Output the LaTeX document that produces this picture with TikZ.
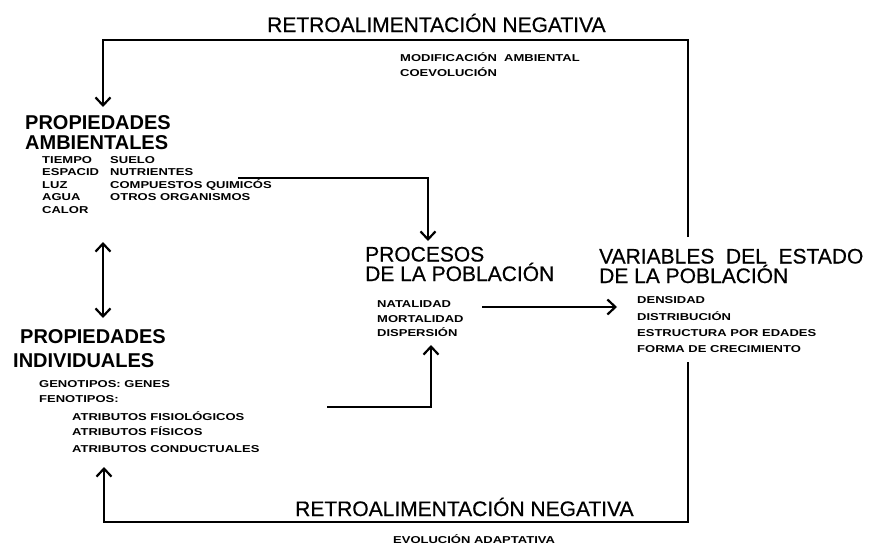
\documentclass[tikz,border=0pt]{standalone}
\usepackage{fontspec}
\setmainfont{Liberation Sans}
\newfontfamily\widesans[FakeStretch=1.3]{Liberation Sans}
\newfontfamily\medsans[FakeBold=0.5]{Liberation Sans}
\usetikzlibrary{arrows.meta}

\tikzset{
  big/.style={anchor=base west, inner sep=0pt, align=left, font=\medsans\fontsize{21}{19.5}\selectfont},
  head/.style={anchor=base west, inner sep=0pt, align=left, font=\bfseries\fontsize{20}{19.5}\selectfont},
  small/.style={anchor=base west, inner sep=0pt, font=\widesans\bfseries\fontsize{10}{10}\selectfont},
  wire/.style={line width=2.2pt, line join=miter},
  flow/.style={wire, -{Straight Barb[length=8pt,width=15pt]}},
  dflow/.style={wire, {Straight Barb[length=8pt,width=15pt]}-{Straight Barb[length=8pt,width=15pt]}},
}

\begin{document}
\begin{tikzpicture}[x=1pt,y=-1pt]
\useasboundingbox (0,0) rectangle (879,544);

% retroalimentacion de arriba
    \node[big] (retroTop) at (267,32) {RETROALIMENTACIÓN NEGATIVA};
    \node[small] (modif) at (400,61) {MODIFICACIÓN\ \ AMBIENTAL};
    \node[small] (coevol) at (400,76) {COEVOLUCIÓN};

% propiedades ambientales (base = ultima linea)
    \node[head] (propA) at (25,149) {PROPIEDADES\\AMBIENTALES};
    \node[small] (tiempo) at (42,163) {TIEMPO};
    \node[small] (espacio) at (42,175) {ESPACID};
    \node[small] (luz) at (42,188) {LUZ};
    \node[small] (agua) at (42,200) {AGUA};
    \node[small] (calor) at (42,213) {CALOR};
    \node[small] (suelo) at (110,163) {SUELO};
    \node[small] (nutr) at (110,175) {NUTRIENTES};
    \node[small] (comp) at (110,188) {COMPUESTOS QUIMICÓS};
    \node[small] (otros) at (110,200) {OTROS ORGANISMOS};

% propiedades individuales
    \node[head] (propI) at (20,367) {PROPIEDADES\\[4pt]\hspace*{-7pt}INDIVIDUALES};
    \node[small] (genot) at (39,387) {GENOTIPOS: GENES};
    \node[small] (fenot) at (39,402) {FENOTIPOS:};
    \node[small] (fisio) at (72,420) {ATRIBUTOS FISIOLÓGICOS};
    \node[small] (fisic) at (72,435) {ATRIBUTOS FÍSICOS};
    \node[small] (conduc) at (72,452) {ATRIBUTOS CONDUCTUALES};

% procesos
    \node[big] (proc) at (365,281) {PROCESOS\\DE LA POBLACIÓN};
    \node[small] (natal) at (377,307) {NATALIDAD};
    \node[small] (mortal) at (377,322) {MORTALIDAD};
    \node[small] (disp) at (377,336) {DISPERSIÓN};

% variables del estado
    \node[big] (vars) at (599,283) {VARIABLES\ \ DEL\ \ ESTADO\\DE LA POBLACIÓN};
    \node[small] (dens) at (637,303) {DENSIDAD};
    \node[small] (distr) at (637,320) {DISTRIBUCIÓN};
    \node[small] (estr) at (637,336) {ESTRUCTURA POR EDADES};
    \node[small] (forma) at (637,352) {FORMA DE CRECIMIENTO};

% retroalimentacion de abajo
    \node[big] (retroBot) at (295,516) {RETROALIMENTACIÓN NEGATIVA};
    \node[small] (evol) at (393,543) {EVOLUCIÓN ADAPTATIVA};

% puntos de las flechas
    \coordinate (topR) at (688,40);
    \coordinate (topL) at (103,40);
    \coordinate (varsUp) at (688,237);
    \coordinate (ambTip) at (103,107);
    \coordinate (nutrEnd) at (238,178);
    \coordinate (procTip) at (428,241);
    \coordinate (ambLow) at (103,242);
    \coordinate (indUp) at (103,318);
    \coordinate (condEnd) at (327,407);
    \coordinate (dispTip) at (431,345);
    \coordinate (natEnd) at (482,307);
    \coordinate (densTip) at (617,307);
    \coordinate (varsLow) at (688,362);
    \coordinate (botR) at (688,522);
    \coordinate (botL) at (104,522);
    \coordinate (condTip) at (104,467);

     \draw[flow] (varsUp) -- (topR) -- (topL) -- (ambTip);
     \draw[flow] (nutrEnd) -| (procTip);
     \draw[dflow] (ambLow) -- (indUp);
     \draw[flow] (condEnd) -| (dispTip);
     \draw[flow] (natEnd) -- (densTip);
     \draw[flow] (varsLow) -- (botR) -- (botL) -- (condTip);
\end{tikzpicture}
\end{document}
